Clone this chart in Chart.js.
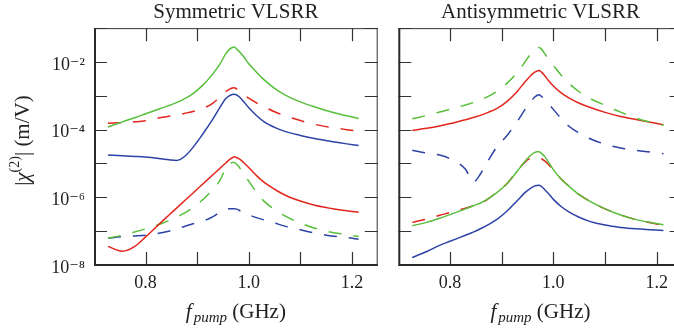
<!DOCTYPE html>
<html><head><meta charset="utf-8">
<script src="https://cdn.jsdelivr.net/npm/chart.js@4.4.1/dist/chart.umd.min.js"></script>
<style>
html,body{margin:0;padding:0;background:#fff;overflow:hidden;width:674px;height:332px;}
#wrap{position:relative;width:674px;height:332px;overflow:hidden;background:#fff;}
canvas{position:absolute;top:0;}
#c1{left:0;}
#c2{left:385px;}
</style></head><body>
<div id="wrap"><canvas id="c1" width="385" height="332"></canvas><canvas id="c2" width="305" height="332"></canvas></div>
<script>
// pump frequency (GHz)
const freq = [0.727,0.755,0.78,0.8,0.83,0.845,0.86,0.875,0.89,0.91,0.93,0.945,0.955,0.963,0.968,0.972,0.977,0.983,0.99,1.0,1.015,1.03,1.05,1.07,1.1,1.13,1.16,1.19,1.213];

// Symmetric VLSRR |chi(2)| (m/V)
const symGreenSolid = [1.20e-4,1.70e-4,2.29e-4,2.95e-4,4.27e-4,5.13e-4,6.31e-4,8.13e-4,1.10e-3,2.00e-3,4.37e-3,9.12e-3,1.70e-2,2.40e-2,2.69e-2,2.75e-2,2.40e-2,1.95e-2,1.45e-2,8.91e-3,5.01e-3,2.95e-3,1.66e-3,1.07e-3,6.61e-4,4.57e-4,3.31e-4,2.57e-4,2.14e-4];
const symRedDashed = [1.55e-4,1.62e-4,1.70e-4,1.82e-4,2.29e-4,2.51e-4,2.69e-4,3.02e-4,3.39e-4,4.17e-4,6.03e-4,9.33e-4,1.32e-3,1.58e-3,1.70e-3,1.74e-3,1.58e-3,1.35e-3,1.10e-3,8.51e-4,6.17e-4,4.68e-4,3.39e-4,2.57e-4,1.86e-4,1.41e-4,1.17e-4,1.00e-4,8.91e-5];
const symBlueSolid = [1.78e-5,1.70e-5,1.62e-5,1.55e-5,1.38e-5,1.29e-5,1.23e-5,1.58e-5,2.75e-5,7.08e-5,2.00e-4,4.79e-4,8.13e-4,1.02e-3,1.10e-3,1.12e-3,1.05e-3,8.91e-4,6.76e-4,4.47e-4,2.63e-4,1.70e-4,1.17e-4,8.91e-5,6.76e-5,5.37e-5,4.47e-5,3.80e-5,3.39e-5];
const symRedSolid = [3.55e-8,2.57e-8,3.63e-8,6.76e-8,1.82e-7,2.95e-7,4.79e-7,7.76e-7,1.26e-6,2.40e-6,4.57e-6,7.41e-6,1.02e-5,1.32e-5,1.48e-5,1.58e-5,1.48e-5,1.32e-5,1.07e-5,7.59e-6,4.37e-6,2.75e-6,1.74e-6,1.17e-6,7.76e-7,5.75e-7,4.68e-7,3.98e-7,3.63e-7];
const symGreenDashed = [6.17e-8,7.59e-8,9.55e-8,1.17e-7,1.66e-7,2.04e-7,2.57e-7,3.39e-7,4.79e-7,8.32e-7,1.70e-6,3.31e-6,7.08e-6,9.55e-6,1.07e-5,1.07e-5,9.33e-6,7.24e-6,5.01e-6,3.02e-6,1.41e-6,7.59e-7,4.37e-7,2.82e-7,1.74e-7,1.20e-7,9.33e-8,7.94e-8,6.92e-8];
const symBlueDashed = [6.17e-8,6.92e-8,7.24e-8,7.59e-8,8.91e-8,1.00e-7,1.12e-7,1.38e-7,1.62e-7,1.95e-7,2.63e-7,3.72e-7,4.37e-7,4.57e-7,4.57e-7,4.57e-7,4.47e-7,3.98e-7,3.47e-7,3.02e-7,2.51e-7,2.14e-7,1.74e-7,1.41e-7,1.10e-7,8.71e-8,7.24e-8,6.46e-8,5.75e-8];

// Antisymmetric VLSRR |chi(2)| (m/V)
const antiGreenDashed = [2.09e-4,2.63e-4,3.31e-4,3.98e-4,5.37e-4,6.31e-4,7.76e-4,9.77e-4,1.35e-3,2.34e-3,4.90e-3,1.00e-2,1.66e-2,2.29e-2,2.57e-2,2.69e-2,2.40e-2,1.78e-2,1.26e-2,7.94e-3,4.07e-3,2.34e-3,1.32e-3,8.51e-4,5.25e-4,3.31e-4,2.19e-4,1.62e-4,1.35e-4];
const antiRedSolid = [9.55e-5,1.10e-4,1.29e-4,1.51e-4,1.95e-4,2.29e-4,2.69e-4,3.31e-4,4.17e-4,6.76e-4,1.35e-3,2.57e-3,3.80e-3,4.90e-3,5.37e-3,5.62e-3,5.01e-3,3.98e-3,2.88e-3,1.95e-3,1.23e-3,8.71e-4,6.03e-4,4.57e-4,3.24e-4,2.45e-4,2.00e-4,1.62e-4,1.41e-4];
const antiBlueDashed = [2.45e-5,2.04e-5,1.78e-5,1.38e-5,6.76e-6,2.82e-6,5.25e-6,1.29e-5,3.02e-5,6.61e-5,1.74e-4,3.89e-4,6.46e-4,8.91e-4,1.02e-3,1.07e-3,9.55e-4,7.94e-4,6.03e-4,3.98e-4,2.14e-4,1.26e-4,7.94e-5,5.50e-5,3.72e-5,2.88e-5,2.45e-5,2.14e-5,1.95e-5];
const antiGreenSolid = [1.45e-7,1.82e-7,2.40e-7,3.09e-7,4.57e-7,5.62e-7,6.92e-7,9.33e-7,1.35e-6,2.51e-6,5.89e-6,1.15e-5,1.70e-5,2.09e-5,2.24e-5,2.24e-5,2.00e-5,1.62e-5,1.12e-5,6.61e-6,3.47e-6,2.14e-6,1.20e-6,7.76e-7,4.57e-7,3.02e-7,2.19e-7,1.78e-7,1.55e-7];
const antiRedDashed = [1.82e-7,2.29e-7,2.95e-7,3.55e-7,4.79e-7,5.62e-7,6.61e-7,9.33e-7,1.38e-6,2.51e-6,6.03e-6,1.10e-5,1.41e-5,1.48e-5,1.51e-5,1.48e-5,1.38e-5,1.20e-5,9.55e-6,6.31e-6,3.47e-6,2.14e-6,1.20e-6,7.76e-7,4.57e-7,3.02e-7,2.19e-7,1.74e-7,1.48e-7];
const antiBlueSolid = [1.66e-8,2.51e-8,3.80e-8,5.01e-8,7.59e-8,9.33e-8,1.20e-7,1.58e-7,2.19e-7,3.89e-7,7.94e-7,1.38e-6,1.82e-6,2.14e-6,2.24e-6,2.29e-6,2.09e-6,1.70e-6,1.32e-6,8.71e-7,5.37e-7,3.72e-7,2.57e-7,1.95e-7,1.51e-7,1.29e-7,1.17e-7,1.10e-7,1.05e-7];

// axes
const xTickValues = [0.8,0.9,1.0,1.1,1.2];
const xTickLabels = ['0.8','','1.0','','1.2'];
const yTickValues = [1e-8,1e-7,1e-6,1e-5,1e-4,1e-3,1e-2,1e-1];
const yTickLabels = ['10\u207B\u2078','','10\u207B\u2076','','10\u207B\u2074','','10\u207B\u00B2',''];
const panelTitles = ['Symmetric VLSRR','Antisymmetric VLSRR'];

const GREEN = '#58bf3c', RED = '#e2261d', BLUE = '#2c42a6';
const SERIF = '"Liberation Serif","DejaVu Serif",serif';
const DASH = [13,12];

function ds(arr, color, dashed){
  return {data: freq.map((f,i)=>({x:f,y:arr[i]})), borderColor: color, borderWidth: 1.5,
    borderDash: dashed ? DASH : [], pointRadius: 0, fill:false, cubicInterpolationMode:'monotone'};
}

const frame = {
  id:'frame',
  afterDraw(chart){
    const {ctx, chartArea:a, scales:{x,y}} = chart;
    ctx.save();
    ctx.strokeStyle = '#333';
    ctx.lineWidth = 1.2;
    ctx.beginPath();
    xTickValues.forEach(v=>{
      const px = Math.round(x.getPixelForValue(v))+0.5;
      ctx.moveTo(px,a.bottom); ctx.lineTo(px,a.bottom-13);
      ctx.moveTo(px,a.top); ctx.lineTo(px,a.top+13);
    });
    yTickValues.forEach(v=>{
      const py = Math.round(y.getPixelForValue(v))+0.5;
      ctx.moveTo(a.left,py); ctx.lineTo(a.left+13,py);
      ctx.moveTo(a.right,py); ctx.lineTo(a.right-13,py);
    });
    ctx.stroke();
    ctx.lineWidth = 1;
    ctx.beginPath();
    ctx.moveTo(a.left, a.top+0.5); ctx.lineTo(a.right, a.top+0.5);
    ctx.moveTo(a.right-0.5, a.top); ctx.lineTo(a.right-0.5, a.bottom);
    ctx.stroke();
    ctx.lineWidth = 2;
    ctx.strokeStyle = '#2a2a2a';
    ctx.beginPath();
    ctx.moveTo(a.left+1, a.top); ctx.lineTo(a.left+1, a.bottom);
    ctx.moveTo(a.left, a.bottom); ctx.lineTo(a.right, a.bottom);
    ctx.stroke();
    // x axis title: f_pump (GHz)
    ctx.fillStyle = '#222';
    ctx.textBaseline = 'alphabetic';
    const fBig = 'italic 21px '+SERIF, fSub = 'italic 15px '+SERIF, fReg = '21px '+SERIF;
    ctx.font = fBig; const w1 = ctx.measureText('f').width;
    ctx.font = fSub; const w2 = ctx.measureText('pump').width;
    ctx.font = fReg; const w3 = ctx.measureText(' (GHz)').width;
    let sx = (a.left+a.right)/2 - (w1+2+w2+w3)/2;
    const by = 318;
    ctx.font = fBig; ctx.fillText('f', sx, by); sx += w1+2;
    ctx.font = fSub; ctx.fillText('pump', sx, by+4); sx += w2;
    ctx.font = fReg; ctx.fillText(' (GHz)', sx, by);
    // y axis title on first panel
    if (chart.options.plugins.frame && chart.options.plugins.frame.yTitle){
      ctx.save();
      const cy = (a.top+a.bottom)/2 - 6;
      ctx.translate(29, cy);
      ctx.rotate(-Math.PI/2);
      const pieces = [
        {t:'|', f:'21px '+SERIF, v:0},
        {t:'\u03C7', f:'italic 21px '+SERIF, v:0},
        {t:'(2)', f:'14px '+SERIF, v:-10},
        {t:'| (m/V)', f:'21px '+SERIF, v:0}
      ];
      let tot = 0;
      pieces.forEach(p=>{ctx.font=p.f; p.w = ctx.measureText(p.t).width; tot += p.w;});
      let u = -tot/2;
      pieces.forEach(p=>{ctx.font=p.f; ctx.fillText(p.t, u, p.v); u += p.w;});
      ctx.restore();
    }
    ctx.restore();
  }
};

function makeChart(id, title, datasets, showY, yWidth, padRight){
  return new Chart(document.getElementById(id), {
    type:'line',
    data:{datasets},
    options:{
      responsive:false, animation:false, devicePixelRatio:1,
      layout:{padding:{left:0,right:padRight,top:0,bottom:0}},
      plugins:{
        legend:{display:false}, tooltip:{enabled:false},
        title:{display:true, text:title, fullSize:false, color:'#222',
          font:{family:SERIF, size:21, weight:'normal', lineHeight:1.15},
          padding:{top:0,bottom:4}},
        frame:{yTitle:showY}
      },
      scales:{
        x:{type:'linear', min:0.7, max:1.25,
          grid:{display:false, drawTicks:false}, border:{display:false},
          afterBuildTicks(s){ s.ticks = xTickValues.map(v=>({value:v})); },
          afterFit(s){ s.height = 67; },
          ticks:{padding:7, color:'#222', font:{family:SERIF, size:18},
            callback(v){ const i = xTickValues.findIndex(t=>Math.abs(t-v)<1e-9); return i>=0 ? xTickLabels[i] : ''; }}
        },
        y:{type:'logarithmic', min:1e-8, max:1e-1,
          grid:{display:false, drawTicks:false}, border:{display:false},
          afterBuildTicks(s){ s.ticks = yTickValues.map(v=>({value:v})); },
          afterFit(s){ s.width = yWidth; },
          ticks:{display:showY, padding:9, labelOffset:3, color:'#222', font:{family:SERIF, size:18},
            callback(v){ const i = yTickValues.findIndex(t=>Math.abs(Math.log10(t)-Math.log10(v))<1e-6); return i>=0 ? yTickLabels[i] : ''; }}
        }
      }
    },
    plugins:[frame]
  });
}

makeChart('c1', panelTitles[0], [
  ds(symGreenSolid, GREEN, false),
  ds(symRedDashed, RED, true),
  ds(symBlueSolid, BLUE, false),
  ds(symRedSolid, RED, false),
  ds(symGreenDashed, GREEN, true),
  ds(symBlueDashed, BLUE, true)
], true, 94, 7.3);

makeChart('c2', panelTitles[1], [
  ds(antiGreenDashed, GREEN, true),
  ds(antiRedSolid, RED, false),
  ds(antiBlueDashed, BLUE, true),
  ds(antiGreenSolid, GREEN, false),
  ds(antiRedDashed, RED, true),
  ds(antiBlueSolid, BLUE, false)
], false, 13.3, 7.4);
</script>
</body></html>
